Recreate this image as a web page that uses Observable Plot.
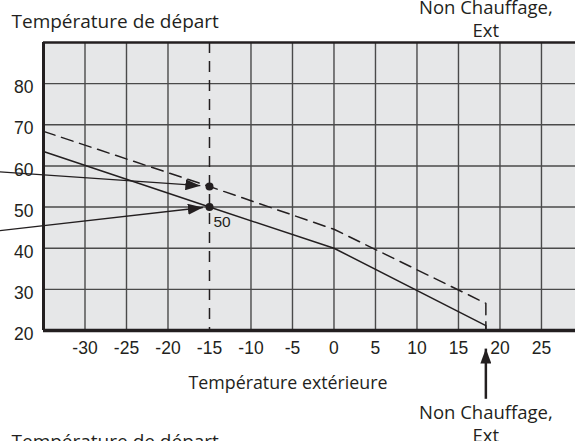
<!DOCTYPE html>
<html><head><meta charset="utf-8">
<script src="https://cdn.jsdelivr.net/npm/d3@7"></script>
<script src="https://cdn.jsdelivr.net/npm/@observablehq/plot@0.6"></script>
<style>html,body{margin:0;padding:0;background:#fff} svg{display:block}</style>
</head><body><div id="chart"></div>
<script>
// ---- data ----
const xTicks = [-30, -25, -20, -15, -10, -5, 0, 5, 10, 15, 20, 25];
const yTicks = [20, 30, 40, 50, 60, 70, 80];
const xGrid = [-30, -25, -20, -10, -5, 0, 5, 10, 15, 20, 25];
const yGrid = [30, 40, 50, 60, 70, 80];
const solidX = [-35, -15, 0, 18.3, 18.3];
const solidY = [63.5, 50, 40, 21.2, 20];
const dashedX = [-35, -15, 0, 18.3, 18.3];
const dashedY = [68.4, 55, 44.6, 26.6, 20];
const designX = -15;
const pointX = [-15, -15];
const pointY = [55, 50];
const pointLabel = "50";
const pointerX1 = [-40.5, -40.5];
const pointerY1 = [58.6, 44.2];
const pointerX2 = [-16.1, -15.8];
const pointerY2 = [55.2, 49.9];
const cutoffX = 18.3;
const cutoffArrowY1 = 3.4;
const cutoffArrowY2 = 15.6;
const yTitle = "Température de départ";
const xTitle = "Température extérieure";
const cutoffLabel = "Non Chauffage,\nExt";

const ink = "#231f20";
const tickFont = "'Liberation Sans Narrow', 'Liberation Sans', sans-serif";
const labelSize = 18.5;

function filledArrow(color) {
  const ns = "http://www.w3.org/2000/svg";
  const m = document.createElementNS(ns, "marker");
  m.setAttribute("viewBox", "-15 -5.5 15 11");
  m.setAttribute("markerWidth", 15);
  m.setAttribute("markerHeight", 11);
  m.setAttribute("markerUnits", "userSpaceOnUse");
  m.setAttribute("orient", "auto");
  m.setAttribute("refX", 0);
  m.setAttribute("refY", 0);
  m.setAttribute("fill", color);
  m.setAttribute("stroke", "none");
  const p = document.createElementNS(ns, "path");
  p.setAttribute("d", "M-15,-5.5L0,0L-15,5.5Z");
  m.appendChild(p);
  return m;
}

const solid = solidX.map((x, i) => ({x, y: solidY[i]}));
const dashed = dashedX.map((x, i) => ({x, y: dashedY[i]}));
const points = pointX.map((x, i) => ({x, y: pointY[i]}));
const pointers = pointerX1.map((x1, i) => ({x1, y1: pointerY1[i], x2: pointerX2[i], y2: pointerY2[i]}));

const chart = Plot.plot({
  width: 575, height: 441,
  marginLeft: 43, marginRight: 0, marginTop: 42, marginBottom: 111,
  x: {domain: [-35, 29.1], axis: null},
  y: {domain: [20, 90], axis: null},
  style: {fontFamily: "'Open Sans', sans-serif", fontSize: labelSize + "px", color: ink, background: "white", overflow: "visible"},
  marks: [
    Plot.frame({fill: "#e6e7e8", stroke: null}),
    Plot.ruleX(xGrid, {stroke: "#4a4a4a", strokeWidth: 1.4}),
    Plot.ruleY(yGrid, {stroke: "#4a4a4a", strokeWidth: 1.4}),
    Plot.ruleX([designX], {stroke: ink, strokeWidth: 1.5, strokeDasharray: "11,8"}),
    Plot.line(solid, {x: "x", y: "y", stroke: ink, strokeWidth: 1.5}),
    Plot.line(dashed, {x: "x", y: "y", stroke: ink, strokeWidth: 1.5, strokeDasharray: "12,7"}),
    Plot.ruleX([-35], {stroke: ink, strokeWidth: 3}),
    Plot.ruleY([20], {stroke: ink, strokeWidth: 3.5}),
    Plot.ruleY([90], {stroke: ink, strokeWidth: 2.5}),
    Plot.link(pointers, {x1: "x1", y1: "y1", x2: "x2", y2: "y2", stroke: ink, strokeWidth: 1.3, markerEnd: filledArrow}),
    Plot.dot(points, {x: "x", y: "y", r: 4, fill: ink, stroke: null}),
    Plot.text([pointLabel], {x: designX, y: pointY[1], dx: 4, dy: 15, textAnchor: "start", fontSize: 15.5, fontFamily: tickFont, fill: ink}),
    Plot.link([cutoffLabel], {x1: cutoffX, x2: cutoffX, y1: cutoffArrowY1, y2: cutoffArrowY2, stroke: ink, strokeWidth: 2.5, markerEnd: filledArrow}),
    Plot.axisY(yTicks, {tickSize: 0, tickPadding: 10, dy: 4, tickFormat: d => String(d), fontSize: 17.5, fontFamily: tickFont, fill: ink, label: null}),
    Plot.axisX(xTicks, {tickSize: 0, tickPadding: 11, tickFormat: d => String(d), fontSize: 17.5, fontFamily: tickFont, fill: ink, label: null}),
    Plot.text([yTitle], {frameAnchor: "top-left", dx: -32, dy: -14.5, textAnchor: "start", lineAnchor: "bottom", fontSize: 19, fill: ink}),
    Plot.text([yTitle], {frameAnchor: "bottom-left", dx: -32, dy: 117.5, textAnchor: "start", lineAnchor: "bottom", fontSize: 19, fill: ink}),
    Plot.text([xTitle], {frameAnchor: "bottom", dx: -21.5, dy: 58, lineAnchor: "bottom", fontSize: 17.8, fill: ink}),
    Plot.text([cutoffLabel], {x: cutoffX, frameAnchor: "bottom", dy: 72, lineAnchor: "top", lineHeight: 1.24, fill: ink}),
    Plot.text([cutoffLabel], {x: cutoffX, frameAnchor: "top", dy: -45, lineAnchor: "top", lineHeight: 1.24, fill: ink})
  ]
});
document.getElementById("chart").appendChild(chart);
</script>
</body></html>
